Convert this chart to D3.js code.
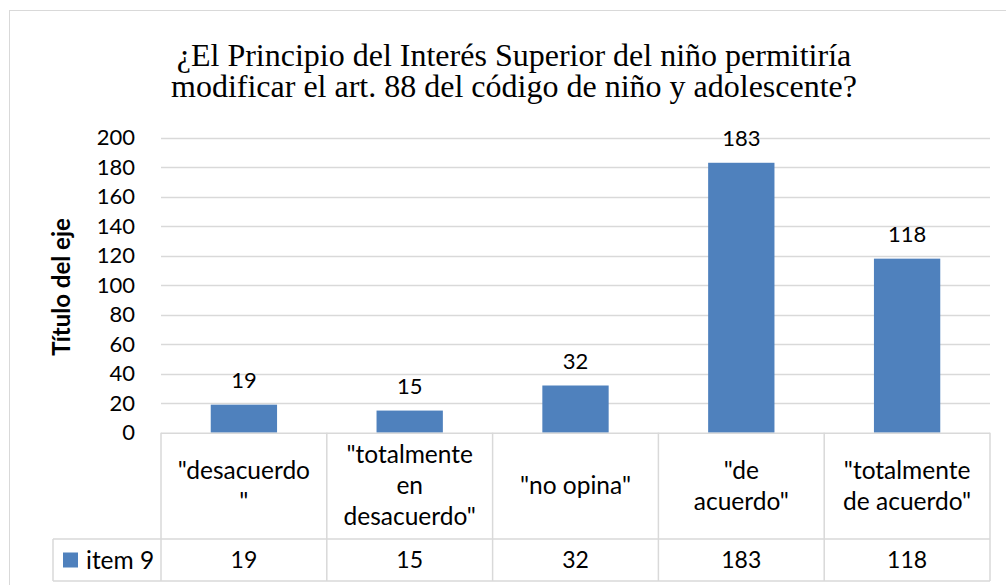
<!DOCTYPE html>
<html>
<head>
<meta charset="utf-8">
<script src="https://cdn.jsdelivr.net/npm/d3@7"></script>
<style>
  body { margin: 0; background: #fff; }
  svg text { font-family: Lato, "Open Sans", sans-serif; fill: #000; }
</style>
</head>
<body>
<svg id="svg" width="1006" height="585"></svg>
<script>
const titleLines = ['¿El Principio del Interés Superior del niño permitiría',
    'modificar el art. 88 del código de niño y adolescente?'];
const categories = ['"desacuerdo\n"', '"totalmente\nen\ndesacuerdo"', '"no opina"',
    '"de\nacuerdo"', '"totalmente\nde acuerdo"'];
const values = [19, 15, 32, 183, 118];
const seriesName = 'item 9';
const yTicks = [0, 20, 40, 60, 80, 100, 120, 140, 160, 180, 200];
const axisTitle = 'Título del eje';

const svg = d3.select('#svg');
const blue = '#4F81BD';
const grey = '#D9D9D9';

// outer chart border (runs off the right and bottom edges)
svg.append('rect')
    .attr('x', 9.5).attr('y', 10.5)
    .attr('width', 1010).attr('height', 590)
    .attr('fill', 'none').attr('stroke', grey);

const plotLeft = 161, plotRight = 990, plotTop = 137.7, zeroY = 432.7;
const headBottom = 539, tableBottom = 581, legendLeft = 53;

const x = d3.scaleBand().domain(d3.range(categories.length))
    .range([plotLeft, plotRight]).paddingInner(0.6).paddingOuter(0.3);
const y = d3.scaleLinear().domain([0, 200]).range([zeroY, plotTop]);
const step = x.step();

// title, one text with a tspan per line
svg.append('text')
    .attr('text-anchor', 'middle')
    .style('font-family', '"Liberation Serif", "Times New Roman", serif')
    .style('font-size', '32px')
    .selectAll('tspan')
    .data(titleLines)
    .join('tspan')
    .attr('x', 514)
    .attr('y', (d, i) => 66 + i * 31)
    .text(d => d);

// gridlines
svg.append('g').selectAll('line')
    .data(yTicks.filter(d => d > 0))
    .join('line')
    .attr('x1', plotLeft).attr('x2', plotRight)
    .attr('y1', d => Math.round(y(d)) + 0.5).attr('y2', d => Math.round(y(d)) + 0.5)
    .attr('stroke', grey).attr('stroke-width', 1.5);

// y axis labels
const yAxis = d3.axisLeft(y).tickValues(yTicks).tickSize(0).tickPadding(0);
const ya = svg.append('g').attr('transform', `translate(${plotLeft - 26},0)`).call(yAxis);
ya.select('.domain').remove();
ya.selectAll('text').style('font-size', '22px').style('font-family', 'Lato, sans-serif').attr('fill', '#000');

// axis title
svg.append('text')
    .attr('transform', 'translate(70,287) rotate(-90)')
    .attr('text-anchor', 'middle')
    .style('font-size', '24px').style('font-weight', 'bold')
    .text(axisTitle);

// bars
svg.append('g').selectAll('rect')
    .data(values)
    .join('rect')
    .attr('x', (d, i) => x(i))
    .attr('width', x.bandwidth())
    .attr('y', d => y(d))
    .attr('height', d => zeroY - y(d))
    .attr('fill', blue);

// data labels
svg.append('g').selectAll('text')
    .data(values)
    .join('text')
    .attr('x', (d, i) => x(i) + x.bandwidth() / 2)
    .attr('y', d => y(d) - 17)
    .attr('text-anchor', 'middle')
    .style('font-size', '22px')
    .text(d => d);

// data table
const tbl = svg.append('g').attr('stroke', grey).attr('stroke-width', 1.5);
tbl.append('line').attr('x1', plotLeft).attr('x2', plotRight).attr('y1', zeroY + 0.5).attr('y2', zeroY + 0.5);
tbl.append('line').attr('x1', legendLeft).attr('x2', plotRight).attr('y1', headBottom).attr('y2', headBottom);
tbl.append('line').attr('x1', legendLeft).attr('x2', plotRight).attr('y1', tableBottom).attr('y2', tableBottom);
tbl.append('line').attr('x1', legendLeft).attr('x2', legendLeft).attr('y1', headBottom).attr('y2', tableBottom);
tbl.selectAll('line.col')
    .data(d3.range(categories.length + 1))
    .join('line').attr('class', 'col')
    .attr('x1', i => plotLeft + i * step).attr('x2', i => plotLeft + i * step)
    .attr('y1', zeroY).attr('y2', tableBottom);

// category cells
const headMid = (zeroY + headBottom) / 2;
svg.append('g').selectAll('text')
    .data(categories)
    .join('text')
    .attr('text-anchor', 'middle')
    .style('font-size', '24.5px')
    .each(function (d, i) {
        const lines = d.split('\n');
        const cx = x(i) + x.bandwidth() / 2;
        d3.select(this).selectAll('tspan')
            .data(lines)
            .join('tspan')
            .attr('x', cx)
            .attr('y', (l, j) => headMid + (j - (lines.length - 1) / 2) * 31)
            .attr('dy', '0.35em')
            .text(l => l);
    });

// value row
const rowMid = (headBottom + tableBottom) / 2;
svg.append('g').selectAll('text')
    .data(values)
    .join('text')
    .attr('x', (d, i) => x(i) + x.bandwidth() / 2)
    .attr('y', rowMid)
    .attr('dy', '0.35em')
    .attr('text-anchor', 'middle')
    .style('font-size', '23px')
    .text(d => d);

// legend key
svg.append('rect')
    .attr('x', 63).attr('y', rowMid - 7.5)
    .attr('width', 15).attr('height', 15)
    .attr('fill', blue);
svg.append('text')
    .attr('x', 86).attr('y', rowMid).attr('dy', '0.35em')
    .style('font-size', '24.5px')
    .text(seriesName);
</script>
</body>
</html>
